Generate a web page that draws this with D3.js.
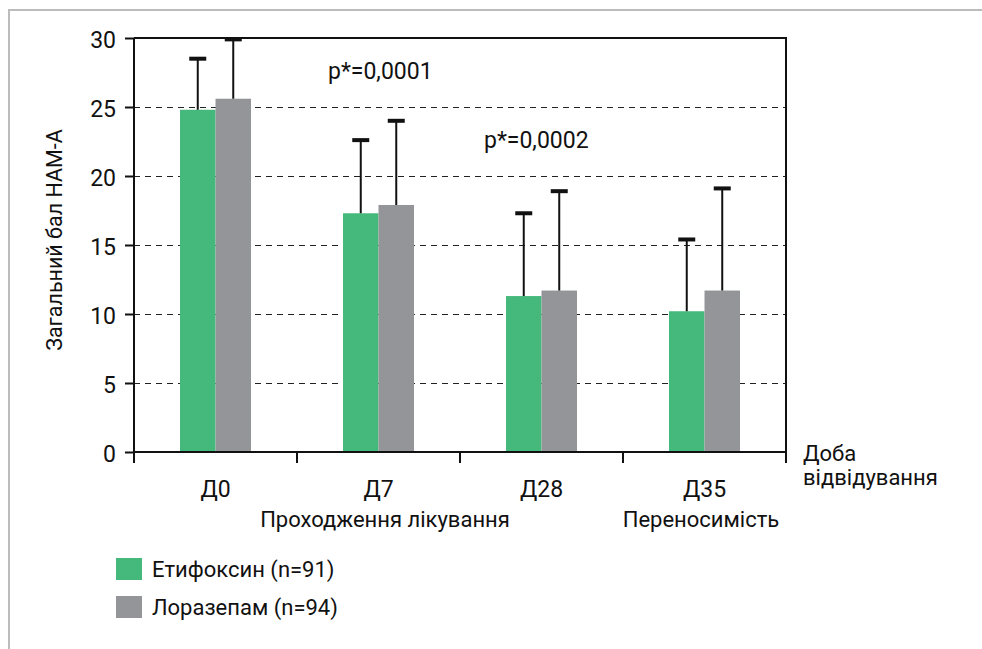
<!DOCTYPE html>
<html>
<head>
<meta charset="utf-8">
<script src="https://cdnjs.cloudflare.com/ajax/libs/d3/7.8.5/d3.min.js"></script>
<style>
  body { margin: 0; background: #fff; }
  svg text { font-family: Roboto, "Noto Sans", sans-serif; fill: #111; }
</style>
</head>
<body>
<div id="chart"></div>
<script>
// data
var categories = ["Д0", "Д7", "Д28", "Д35"];
var series = ["Етифоксин (n=91)", "Лоразепам (n=94)"];
var etifoxin = [24.8, 17.3, 11.3, 10.2];
var etifoxinSd = [3.7, 5.3, 6.0, 5.2];
var lorazepam = [25.6, 17.9, 11.7, 11.7];
var lorazepamSd = [4.3, 6.1, 7.2, 7.4];
var yTicks = [0, 5, 10, 15, 20, 25, 30];
var colors = ["#45b97c", "#939598"];

var width = 982, height = 649;
var plotLeft = 134, plotRight = 786, plotTop = 38, plotBottom = 452;

var svg = d3.select("#chart").append("svg")
    .attr("width", width)
    .attr("height", height);

// outer frame (top + left grey rule)
svg.append("path")
    .attr("d", "M9,649 L9,10 L982,10")
    .attr("fill", "none")
    .attr("stroke", "#bcbcbc")
    .attr("stroke-width", 2);

var x = d3.scaleBand()
    .domain(categories)
    .range([plotLeft, plotRight])
    .padding(0);

var x1 = d3.scaleBand()
    .domain(series)
    .range([x.bandwidth() / 2 - 35.5, x.bandwidth() / 2 + 35.5]);

var y = d3.scaleLinear()
    .domain([0, 30])
    .range([plotBottom, plotTop]);

// dashed grid
svg.append("g")
    .selectAll("line")
    .data(yTicks.filter(function(d) { return d > 0 && d < 30; }))
    .enter()
    .append("line")
    .attr("x1", plotLeft)
    .attr("x2", plotRight)
    .attr("y1", function(d) { return Math.round(y(d)) + 0.5; })
    .attr("y2", function(d) { return Math.round(y(d)) + 0.5; })
    .attr("stroke", "#222")
    .attr("stroke-width", 1)
    .attr("stroke-dasharray", "6,5");

// plot frame top + right
svg.append("path")
    .attr("d", "M" + plotLeft + "," + plotTop + " L" + plotRight + "," + plotTop + " L" + plotRight + "," + plotBottom)
    .attr("fill", "none")
    .attr("stroke", "#111")
    .attr("stroke-width", 2);

var rows = categories.map(function(c, i) {
    return [
        { cat: c, s: 0, v: etifoxin[i], sd: etifoxinSd[i] },
        { cat: c, s: 1, v: lorazepam[i], sd: lorazepamSd[i] }
    ];
});
var flat = [].concat.apply([], rows);

function cx(d) { return x(d.cat) + x1(series[d.s]) + x1.bandwidth() / 2; }

var bars = svg.append("g");
bars.selectAll("rect")
    .data(flat)
    .enter()
    .append("rect")
    .attr("x", function(d) { return x(d.cat) + x1(series[d.s]); })
    .attr("width", x1.bandwidth())
    .attr("y", function(d) { return y(d.v); })
    .attr("height", function(d) { return y(0) - y(d.v); })
    .attr("fill", function(d) { return colors[d.s]; });

// error bars (upper only)
var err = svg.append("g");
err.selectAll("line.stem")
    .data(flat)
    .enter()
    .append("line")
    .attr("class", "stem")
    .attr("x1", cx)
    .attr("x2", cx)
    .attr("y1", function(d) { return y(d.v); })
    .attr("y2", function(d) { return y(d.v + d.sd); })
    .attr("stroke", "#111")
    .attr("stroke-width", 2);

err.selectAll("line.cap")
    .data(flat)
    .enter()
    .append("line")
    .attr("class", "cap")
    .attr("x1", function(d) { return cx(d) - 8.5; })
    .attr("x2", function(d) { return cx(d) + 8.5; })
    .attr("y1", function(d) { return y(d.v + d.sd); })
    .attr("y2", function(d) { return y(d.v + d.sd); })
    .attr("stroke", "#111")
    .attr("stroke-width", 4);

// y axis
var yAxis = svg.append("g")
    .attr("transform", "translate(" + plotLeft + ",0)")
    .call(d3.axisLeft(y).tickValues(yTicks).tickSize(9).tickPadding(9));
yAxis.select(".domain").attr("stroke", "#111").attr("stroke-width", 2)
    .attr("d", "M0," + plotTop + "V" + (plotBottom + 11));
yAxis.selectAll(".tick line").attr("stroke", "#111").attr("stroke-width", 2);
yAxis.selectAll(".tick text")
    .attr("font-size", 23)
    .attr("font-family", "Roboto, sans-serif")
    .attr("fill", "#111")
    .attr("dy", "0.43em");

// x axis: ticks on the band edges
var xAxis = svg.append("g")
    .attr("transform", "translate(0," + plotBottom + ")");
xAxis.append("line")
    .attr("x1", plotLeft).attr("x2", plotRight)
    .attr("stroke", "#111").attr("stroke-width", 2);
xAxis.selectAll("line.tk")
    .data(categories.slice(1).concat(["end"]))
    .enter()
    .append("line")
    .attr("class", "tk")
    .attr("x1", function(d) { return d === "end" ? plotRight : x(d); })
    .attr("x2", function(d) { return d === "end" ? plotRight : x(d); })
    .attr("y1", 0).attr("y2", 11)
    .attr("stroke", "#111").attr("stroke-width", 2);
xAxis.selectAll("text")
    .data(categories)
    .enter()
    .append("text")
    .attr("x", function(d) { return x(d) + x.bandwidth() / 2; })
    .attr("y", 45)
    .attr("text-anchor", "middle")
    .attr("font-size", 23)
    .text(function(d) { return d; });

// sub-labels under the axis
svg.append("text").attr("x", 385).attr("y", 527).attr("text-anchor", "middle")
    .attr("font-size", 22).text("Проходження лікування");
svg.append("text").attr("x", 701).attr("y", 527).attr("text-anchor", "middle")
    .attr("font-size", 22).text("Переносимість");
svg.append("text").attr("x", 803).attr("y", 461).attr("font-size", 22).text("Доба");
svg.append("text").attr("x", 803).attr("y", 485).attr("font-size", 22).text("відвідування");

// y title
svg.append("text")
    .attr("transform", "translate(62,240) rotate(-90)")
    .attr("text-anchor", "middle")
    .attr("font-size", 21.5)
    .text("Загальний бал НАМ-А");

// p values
svg.append("text").attr("x", 328).attr("y", 79).attr("font-size", 23).text("p*=0,0001");
svg.append("text").attr("x", 484).attr("y", 148).attr("font-size", 23).text("p*=0,0002");

// legend
var legend = svg.append("g");
var lg = legend.selectAll("g")
    .data(series)
    .enter()
    .append("g")
    .attr("transform", function(d, i) { return "translate(116," + (558 + i * 38) + ")"; });
lg.append("rect")
    .attr("width", 26)
    .attr("height", 22)
    .attr("fill", function(d, i) { return colors[i]; });
lg.append("text")
    .attr("x", 36)
    .attr("y", 19)
    .attr("font-size", 22)
    .text(function(d) { return d; });
</script>
</body>
</html>
